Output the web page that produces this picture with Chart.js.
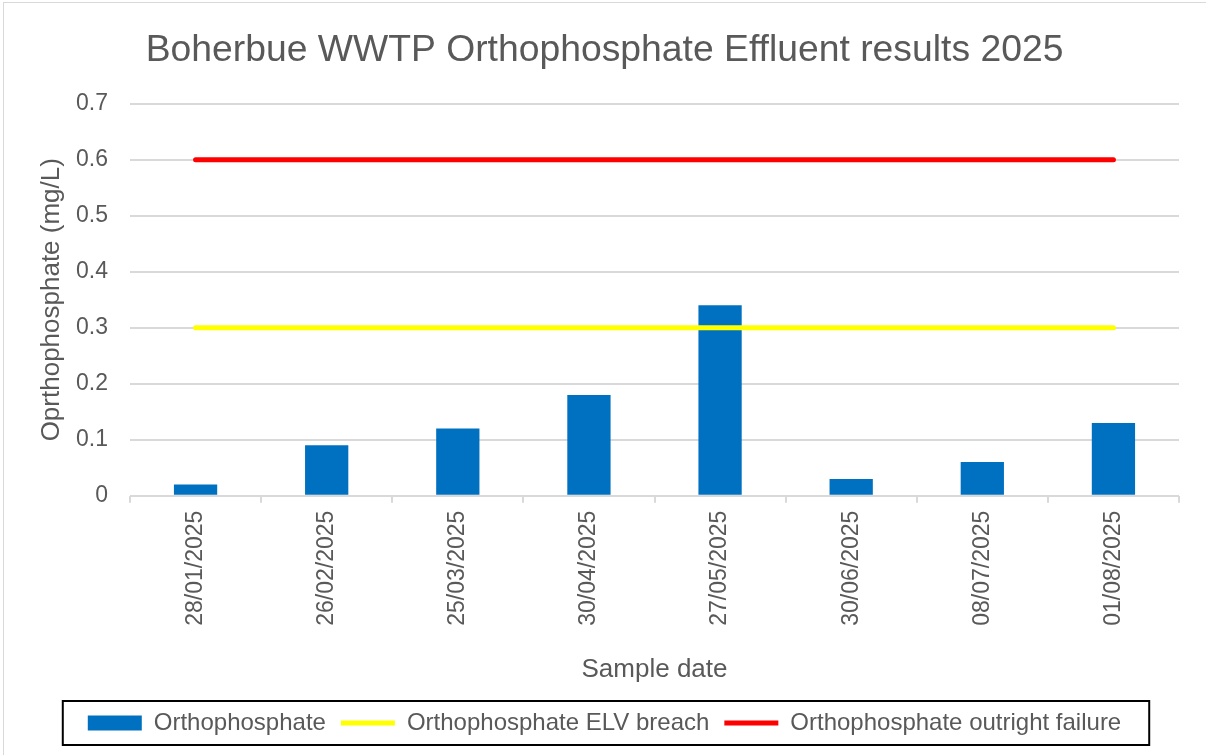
<!DOCTYPE html>
<html>
<head>
<meta charset="utf-8">
<script src="https://cdn.jsdelivr.net/npm/chart.js@4.4.1/dist/chart.umd.min.js"></script>
<style>
  html, body { margin: 0; padding: 0; background: #fff; }
  #wrap { width: 1206px; height: 755px; }
</style>
</head>
<body>
<div id="wrap"><canvas id="chart" width="1206" height="755"></canvas></div>
<script>
// Dữ liệu biểu đồ
const sampleDates = ['28/01/2025', '26/02/2025', '25/03/2025', '30/04/2025', '27/05/2025', '30/06/2025', '08/07/2025', '01/08/2025'];
const orthophosphate = [0.02, 0.09, 0.12, 0.18, 0.34, 0.03, 0.06, 0.13];
const elvBreach = [0.3, 0.3, 0.3, 0.3, 0.3, 0.3, 0.3, 0.3];
const outrightFailure = [0.6, 0.6, 0.6, 0.6, 0.6, 0.6, 0.6, 0.6];

const textColor = '#595959';
const gridColor = '#d9d9d9';
const fontFamily = 'Liberation Sans, Arial, sans-serif';

// Khung viền ngoài + khung chú thích
const framePlugin = {
    id: 'frames',
    beforeDraw(chart) {
        const ctx = chart.ctx;
        ctx.save();
        ctx.strokeStyle = gridColor;
        ctx.lineWidth = 1;
        ctx.strokeRect(3.5, 2.5, 1230, 780);
        ctx.restore();
    },
    afterDraw(chart) {
        const boxes = chart.legend.legendHitBoxes;
        if (!boxes || !boxes.length) return;
        const left = Math.min(...boxes.map(b => b.left));
        const right = Math.max(...boxes.map(b => b.left + b.width));
        const top = Math.min(...boxes.map(b => b.top));
        const bottom = Math.max(...boxes.map(b => b.top + b.height));
        const ctx = chart.ctx;
        ctx.save();
        ctx.strokeStyle = '#000';
        ctx.lineWidth = 2;
        ctx.strokeRect(left - 25, top - 10, (right - left) + 53, (bottom - top) + 20);
        ctx.restore();
    }
};

const ctx = document.getElementById('chart').getContext('2d');
const chart = new Chart(ctx, {
    type: 'bar',
    data: {
        labels: sampleDates,
        datasets: [{
            label: 'Orthophosphate',
            data: orthophosphate,
            backgroundColor: '#0070c0',
            borderWidth: 0,
            barPercentage: 0.66,
            categoryPercentage: 0.5,
            pointStyle: 'rect',
            order: 3
        }, {
            type: 'line',
            label: 'Orthophosphate ELV breach',
            data: elvBreach,
            borderColor: '#ffff00',
            backgroundColor: '#ffff00',
            borderWidth: 5,
            borderCapStyle: 'round',
            pointRadius: 0,
            pointStyle: 'line',
            order: 2
        }, {
            type: 'line',
            label: 'Orthophosphate outright failure',
            data: outrightFailure,
            borderColor: '#ff0000',
            backgroundColor: '#ff0000',
            borderWidth: 5,
            borderCapStyle: 'round',
            pointRadius: 0,
            pointStyle: 'line',
            order: 1
        }]
    },
    options: {
        responsive: false,
        animation: false,
        layout: { padding: { left: 30, right: 27, top: 0, bottom: 10 } },
        plugins: {
            title: {
                display: true,
                text: 'Boherbue WWTP Orthophosphate Effluent results 2025',
                color: textColor,
                font: { family: fontFamily, size: 37.3, weight: 'normal' },
                padding: { top: 28, bottom: 31 }
            },
            legend: {
                position: 'bottom',
                labels: {
                    color: textColor,
                    font: { family: fontFamily, size: 24 },
                    usePointStyle: true,
                    pointStyleWidth: 54,
                    boxHeight: 15,
                    padding: 15,
                    sort: (a, b) => a.datasetIndex - b.datasetIndex
                }
            },
            tooltip: { enabled: false }
        },
        scales: {
            x: {
                offset: true,
                grid: {
                    display: true,
                    offset: true,
                    drawOnChartArea: false,
                    drawTicks: true,
                    tickLength: 7,
                    color: gridColor,
                    lineWidth: 2
                },
                border: { display: false },
                ticks: {
                    color: textColor,
                    font: { family: fontFamily, size: 23 },
                    minRotation: 90,
                    maxRotation: 90,
                    padding: 8
                },
                title: {
                    display: true,
                    text: 'Sample date',
                    color: textColor,
                    font: { family: fontFamily, size: 26 },
                    padding: { top: 20, bottom: 11 }
                }
            },
            y: {
                min: 0,
                max: 0.7,
                afterFit(scale) { scale.width = 100; },
                grid: {
                    color: gridColor,
                    lineWidth: 2,
                    drawTicks: false
                },
                border: { display: false },
                ticks: {
                    stepSize: 0.1,
                    color: textColor,
                    font: { family: fontFamily, size: 23 },
                    padding: 22,
                    callback: v => Math.round(v * 10) / 10
                },
                title: {
                    display: true,
                    text: 'Oprthophosphate (mg/L)',
                    color: textColor,
                    font: { family: fontFamily, size: 26 },
                    padding: { top: 6, bottom: 0 }
                }
            }
        }
    },
    plugins: [framePlugin]
});
</script>
</body>
</html>
